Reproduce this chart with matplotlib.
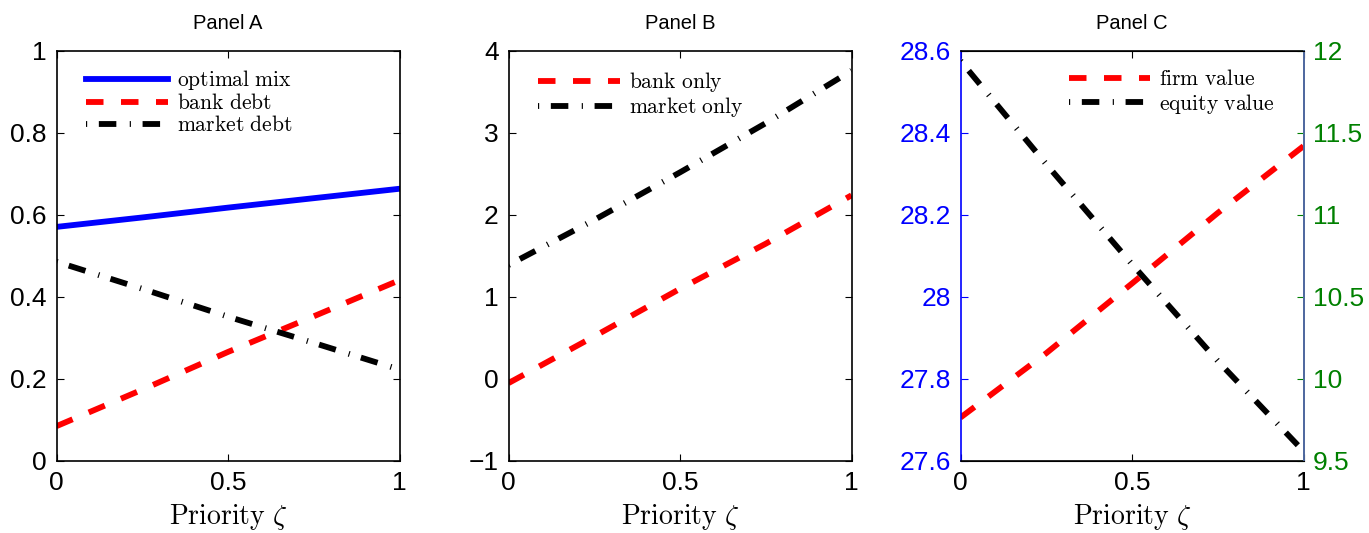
import matplotlib
matplotlib.use('Agg')
import matplotlib.pyplot as plt

plt.rcParams['font.family'] = ['Liberation Sans', 'DejaVu Sans']
plt.rcParams['mathtext.fontset'] = 'cm'

# priority grid
zeta = [0, 0.25, 0.5, 0.75, 1]

# Panel A
optimal_mix = [0.571, 0.594, 0.618, 0.641, 0.664]
bank_debt = [0.085, 0.174, 0.266, 0.353, 0.441]
market_debt = [0.486, 0.420, 0.352, 0.288, 0.223]

# Panel B
bank_only = [-0.05, 0.52, 1.10, 1.65, 2.24]
market_only = [1.39, 1.94, 2.52, 3.12, 3.76]

# Panel C
firm_value = [27.706, 27.863, 28.033, 28.205, 28.368]
equity_value = [11.94, 11.31, 10.70, 10.11, 9.56]

xticks = [0, 0.5, 1]
xticklabels = ['0', '0.5', '1']

LW = 4.2
DASH = (0, (3, 3))
DASHDOT = (0, (0.2, 2.0, 3.0, 2.3))
TICK_FS = 19
LEG_FS = 15.5
BLUE = (0, 0, 1)
GREEN = (0, 0.5, 0)

fig = plt.figure(figsize=(13.69, 5.33), dpi=100)
lefts = [56.5 / 1369, 508.5 / 1369, 960.5 / 1369]
w = 343 / 1369
b = 72 / 533
h = 410 / 533


def style_axes(ax, title):
    ax.set_xlim(0, 1)
    ax.set_xticks(xticks)
    ax.set_xticklabels(xticklabels)
    ax.tick_params(direction='in', length=5, width=0.8, labelsize=TICK_FS, pad=7,
                   top=True, right=True)
    ax.set_title(title, fontsize=14.5, pad=16)
    ax.set_xlabel(r'$\mathrm{Priority}\ \zeta$', fontsize=20, labelpad=5)
    for s in ax.spines.values():
        s.set_linewidth(1.2)


def add_legend(ax, handles, x, y):
    ax.legend(handles=handles, loc='upper left', bbox_to_anchor=(x, y),
              frameon=False, fontsize=LEG_FS, handlelength=3.8,
              handletextpad=0.4, labelspacing=0.05, borderpad=0,
              borderaxespad=0)


# Panel A
ax = fig.add_axes([lefts[0], b, w, h])
l1, = ax.plot(zeta, optimal_mix, color=BLUE, lw=LW, label=r'$\mathrm{optimal\ mix}$')
l2, = ax.plot(zeta, bank_debt, color='red', lw=LW, ls=DASH, label=r'$\mathrm{bank\ debt}$')
l3, = ax.plot(zeta, market_debt, color='black', lw=LW, ls=DASHDOT, label=r'$\mathrm{market\ debt}$')
ax.set_ylim(0, 1)
ax.set_yticks([0, 0.2, 0.4, 0.6, 0.8, 1])
ax.set_yticklabels(['0', '0.2', '0.4', '0.6', '0.8', '1'])
style_axes(ax, 'Panel A')
add_legend(ax, [l1, l2, l3], 0.087, 0.958)

# Panel B
ax = fig.add_axes([lefts[1], b, w, h])
l1, = ax.plot(zeta, bank_only, color='red', lw=LW, ls=DASH, label=r'$\mathrm{bank\ only}$')
l2, = ax.plot(zeta, market_only, color='black', lw=LW, ls=DASHDOT, label=r'$\mathrm{market\ only}$')
ax.set_ylim(-1, 4)
ax.set_yticks([-1, 0, 1, 2, 3, 4])
ax.set_yticklabels(['\u22121', '0', '1', '2', '3', '4'])
style_axes(ax, 'Panel B')
add_legend(ax, [l1, l2], 0.087, 0.953)

# Panel C
ax = fig.add_axes([lefts[2], b, w, h])
ax2 = ax.twinx()
l1, = ax.plot(zeta, firm_value, color='red', lw=LW, ls=DASH, label=r'$\mathrm{firm\ value}$')
l2, = ax2.plot(zeta, equity_value, color='black', lw=LW, ls=DASHDOT, label=r'$\mathrm{equity\ value}$')
ax.set_ylim(27.6, 28.6)
ax.set_yticks([27.6, 27.8, 28.0, 28.2, 28.4, 28.6])
ax.set_yticklabels(['27.6', '27.8', '28', '28.2', '28.4', '28.6'])
style_axes(ax, 'Panel C')
ax.tick_params(axis='y', colors=BLUE, right=False)
ax.spines['left'].set_color(BLUE)
ax2.set_ylim(9.5, 12)
ax2.set_yticks([9.5, 10, 10.5, 11, 11.5, 12])
ax2.set_yticklabels(['9.5', '10', '10.5', '11', '11.5', '12'])
ax2.tick_params(axis='y', direction='in', length=5, width=0.8, labelsize=TICK_FS,
                pad=7, colors=GREEN)
ax2.spines['right'].set_color('#5a78b8')
ax2.spines['right'].set_linewidth(1.2)
ax2.spines['left'].set_visible(False)
add_legend(ax2, [l1, l2], 0.315, 0.955)

fig.savefig('out.png', dpi=100)
